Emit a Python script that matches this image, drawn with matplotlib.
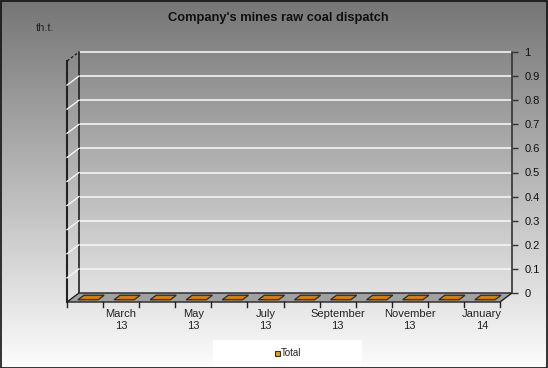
import numpy as np
import matplotlib
matplotlib.use("Agg")
import matplotlib.pyplot as plt
import matplotlib.transforms as mtransforms
from matplotlib.patches import Polygon, Rectangle
from matplotlib.lines import Line2D

plt.rcParams['font.family'] = ['Liberation Sans', 'DejaVu Sans']

categories = ["February\n13", "March\n13", "April\n13", "May\n13", "June\n13", "July\n13",
              "August\n13", "September\n13", "October\n13", "November\n13", "December\n13", "January\n14"]
values = [0, 0, 0, 0, 0, 0, 0, 0, 0, 0, 0, 0]
yticks = [0, 0.1, 0.2, 0.3, 0.4, 0.5, 0.6, 0.7, 0.8, 0.9, 1]
ytick_labels = ["0", "0.1", "0.2", "0.3", "0.4", "0.5", "0.6", "0.7", "0.8", "0.9", "1"]
title = "Company's mines raw coal dispatch"
unit = "th.t."
series_name = "Total"

W, H = 548, 368
fig = plt.figure(figsize=(W / 100, H / 100), dpi=100)

# background gradient
bg = fig.add_axes([0, 0, 1, 1])
grad = np.linspace(0.46, 0.99, 256).reshape(-1, 1)
bg.imshow(np.dstack([grad, grad, grad]), aspect='auto', extent=[0, W, H, 0])
bg.set_xlim(0, W)
bg.set_ylim(H, 0)
bg.axis('off')

# back wall
x0, x1, ytop, ybot = 79, 512, 52, 293
DX, DY = -12, 9  # screen-pixel offset of the front plane relative to the back plane (down-left)
ax = fig.add_axes([x0 / W, 1 - ybot / H, (x1 - x0) / W, (ybot - ytop) / H])
ax.set_facecolor('none')
n = len(categories)
ax.set_xlim(-0.5, n - 0.5)
ax.set_ylim(0, 1)
for s in ['top', 'bottom']:
    ax.spines[s].set_visible(False)
ax.spines['left'].set_color('#222222')
ax.spines['right'].set_color('#333333')
ax.spines['left'].set_linewidth(1.2)
ax.spines['right'].set_linewidth(1.2)
ax.yaxis.tick_right()
ax.set_yticks(yticks)
ax.set_yticklabels(ytick_labels, fontsize=8, color='#111111')
ax.tick_params(axis='y', length=4, width=1, color='#333333', pad=5)
ax.set_xticks([])


def off(f):
    return mtransforms.offset_copy(ax.transData, fig=fig, x=DX * f, y=-DY * f, units='dots')


front = off(1.0)

# gridlines on back wall
for yv in yticks[1:]:
    ax.plot([-0.5, n - 0.5], [yv, yv], color='#f4f4f4', lw=1.2, zorder=1, clip_on=False)
# left wall diagonal lines (connect front to back)
for yv in yticks[1:]:
    p_back = ax.transData.transform((-0.5, yv))
    p_front = front.transform((-0.5, yv))
    style = (0, (2, 1.5)) if yv == 1 else '-'
    col = '#222222' if yv == 1 else '#f4f4f4'
    fig.add_artist(Line2D([p_front[0] / W, p_back[0] / W], [p_front[1] / H, p_back[1] / H],
                          transform=fig.transFigure, color=col, lw=1.0, ls=style))

# left wall front edge
ax.plot([-0.5, -0.5], [0, 1], color='#222222', lw=1.5, transform=front, clip_on=False)

# floor
pb0 = ax.transData.transform((-0.5, 0)); pb1 = ax.transData.transform((n - 0.5, 0))
pf0 = front.transform((-0.5, 0)); pf1 = front.transform((n - 0.5, 0))
pts = np.array([pb0, pb1, pf1, pf0]) / np.array([W, H])
fig.add_artist(Polygon(pts, closed=True, transform=fig.transFigure, facecolor='#a0a0a0',
                       edgecolor='#222222', lw=1.0))
# floor ticks at front edge
for k in range(n + 1):
    p = front.transform((k - 0.5, 0))
    fig.add_artist(Line2D([p[0] / W, p[0] / W], [p[1] / H, (p[1] - 5) / H],
                          transform=fig.transFigure, color='#222222', lw=1.0))

# bars (zero height -> flat tiles on the floor)
bw = 0.28
for i, v in enumerate(values):
    a = off(0.25).transform((i - bw, v)); b = off(0.25).transform((i + bw, v))
    c = off(0.75).transform((i + bw, v)); d = off(0.75).transform((i - bw, v))
    poly = np.array([a, b, c, d]) / np.array([W, H])
    fig.add_artist(Polygon(poly, closed=True, transform=fig.transFigure, facecolor='#d47e00',
                           edgecolor='#2a2a2a', lw=0.9))

# category labels (every other)
for i, lab in enumerate(categories):
    if i % 2 == 1:
        p = front.transform((i, 0))
        fig.text(p[0] / W, (p[1] - 7) / H, lab, ha='center', va='top', fontsize=8,
                 color='#222222', linespacing=1.3)

# title and unit
fig.text(278 / W, 1 - 18 / H, title, ha='center', va='center', fontsize=9.3,
         fontweight='bold', color='#111111')
fig.text(45 / W, 1 - 28 / H, unit, ha='center', va='center', fontsize=8, color='#222222')

# legend
fig.add_artist(Rectangle((213 / W, 1 - 366 / H), 149 / W, 26 / H, transform=fig.transFigure,
                         facecolor='white', edgecolor='none'))
fig.add_artist(Rectangle((275 / W, 1 - 356 / H), 5 / W, 5 / H, transform=fig.transFigure,
                         facecolor='#f0a000', edgecolor='#333333', lw=0.8))
fig.text(281 / W, 1 - 353 / H, series_name, ha='left', va='center', fontsize=7, color='#222222')

# outer frame
fig.add_artist(Rectangle((0.5 / W, 0.5 / H), (W - 1.5) / W, (H - 1.5) / H, transform=fig.transFigure,
                         facecolor='none', edgecolor='#111111', lw=1.2))

fig.savefig("out.png", dpi=100)
